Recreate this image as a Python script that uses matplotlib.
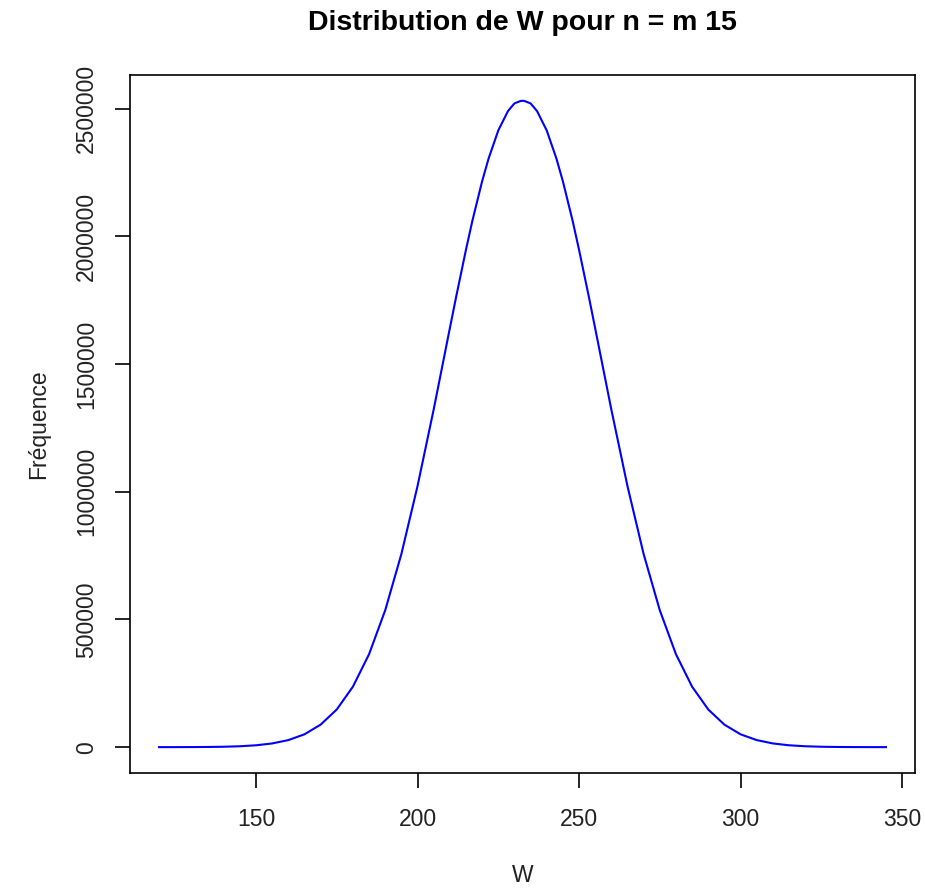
import matplotlib
matplotlib.use("Agg")
import matplotlib.pyplot as plt

# valeurs (W de 5 en 5, plus serré près du sommet)
w_vals = [120, 125, 130, 135, 140, 145, 150, 155, 160, 165, 170, 175, 180,
          185, 190, 195, 200, 205, 210, 212, 215, 217, 220, 222, 225, 228,
          230, 232, 233, 235, 237, 240, 243, 245, 248, 250, 253, 255, 260,
          265, 270, 275, 280, 285, 290, 295, 300, 305, 310, 315, 320, 325,
          330, 335, 340, 345]
freq_left = [1, 100, 300, 700, 1600, 3500, 7300, 14500, 27600, 50300, 88100,
             147500, 236800, 364000, 536000, 756000, 1022000, 1322000,
             1640000, 1766000, 1948000, 2062000, 2216000, 2305000, 2415000,
             2491000, 2521000, 2531000]
freq = freq_left + freq_left[::-1]

x_ticks = [150, 200, 250, 300, 350]
y_ticks = [0, 500000, 1000000, 1500000, 2000000, 2500000]

plt.rcParams['font.family'] = ['Liberation Sans', 'DejaVu Sans']

fig = plt.figure(figsize=(9.25, 8.9), dpi=100)
ax = fig.add_axes([130 / 925, 117 / 890, 785 / 925, 698 / 890])

ax.plot(w_vals, freq, color='#0000ff', lw=1.5)

# marges façon R (4 %)
xr = max(w_vals) - min(w_vals)
yr = max(freq) - min(freq)
ax.set_xlim(min(w_vals) - 0.04 * xr, max(w_vals) + 0.04 * xr)
ax.set_ylim(min(freq) - 0.04 * yr, max(freq) + 0.04 * yr)

ax.set_xticks(x_ticks)
ax.set_xticklabels([str(v) for v in x_ticks])
ax.set_yticks(y_ticks)
ax.set_yticklabels([str(v) for v in y_ticks], rotation=90, va='center')

for s in ax.spines.values():
    s.set_linewidth(1.2)
ax.tick_params(direction='out', length=11, width=1.2, labelsize=16.5,
               labelcolor='#222222')
ax.tick_params(axis='x', pad=14)
ax.tick_params(axis='y', pad=12)

ax.set_xlabel('W', fontsize=16.5, color='#222222', labelpad=24)
ax.set_ylabel('Fréquence', fontsize=16.5, color='#222222', labelpad=18)
fig.text(522 / 925, 1 - 23 / 890, 'Distribution de W pour n = m 15',
         ha='center', va='center', fontsize=20.5, fontweight='bold')

fig.savefig('out.png', dpi=100)
